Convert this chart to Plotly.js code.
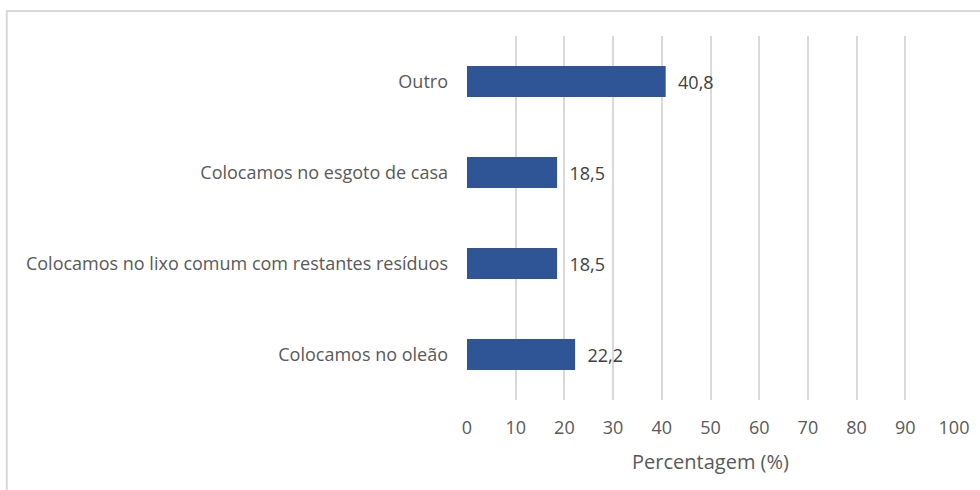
<!DOCTYPE html>
<html>
<head>
<meta charset="utf-8">
<script src="https://cdn.plot.ly/plotly-3.0.1.min.js"></script>
<style>html,body{margin:0;padding:0;background:#fff;}#chart{width:980px;height:490px;}</style>
</head>
<body>
<div id="chart"></div>
<script>
const categories = ["Outro", "Colocamos no esgoto de casa", "Colocamos no lixo comum com restantes resíduos", "Colocamos no oleão"];
const values = [40.8, 18.5, 18.5, 22.2];
const xTickValues = [0, 10, 20, 30, 40, 50, 60, 70, 80, 90, 100];
const xTitle = "Percentagem (%)";

const labels = values.map(v => '\u00a0\u00a0' + v.toFixed(1).replace('.', ','));
const fontFam = "'Open Sans', sans-serif";

const trace = {
  type: 'bar',
  orientation: 'h',
  y: categories,
  x: values,
  width: 0.34,
  marker: {color: '#2F5597'},
  text: labels,
  textposition: 'outside',
  cliponaxis: false,
  textfont: {family: fontFam, size: 18, color: '#404040'},
  hoverinfo: 'none'
};

const layout = {
  width: 980, height: 490,
  margin: {l: 467, r: 26, t: 36, b: 90},
  paper_bgcolor: '#fff', plot_bgcolor: '#fff',
  showlegend: false,
  font: {family: fontFam, size: 18, color: '#595959'},
  xaxis: {
    range: [0, 100],
    tickvals: xTickValues,
    ticktext: xTickValues.map(String),
    showgrid: true, gridcolor: '#D9D9D9', gridwidth: 2,
    zeroline: false, showline: false, ticks: '',
    ticklabelstandoff: 15,
    tickfont: {family: fontFam, size: 18, color: '#595959'},
    title: {text: xTitle, standoff: 16, font: {family: fontFam, size: 20, color: '#595959'}},
    fixedrange: true
  },
  yaxis: {
    autorange: 'reversed',
    showgrid: false, zeroline: false, showline: false, ticks: '',
    ticklabelstandoff: 18,
    tickfont: {family: fontFam, size: 18, color: '#595959'},
    fixedrange: true
  },
  bargap: 0.66,
  shapes: [{
    type: 'rect', xref: 'paper', yref: 'paper',
    x0: -0.945, x1: 1.2, y0: -0.4, y1: 1.069,
    line: {color: '#D9D9D9', width: 2}, fillcolor: 'rgba(0,0,0,0)', layer: 'below'
  }]
};

Plotly.newPlot('chart', [trace], layout, {displayModeBar: false, staticPlot: true});
</script>
</body>
</html>
